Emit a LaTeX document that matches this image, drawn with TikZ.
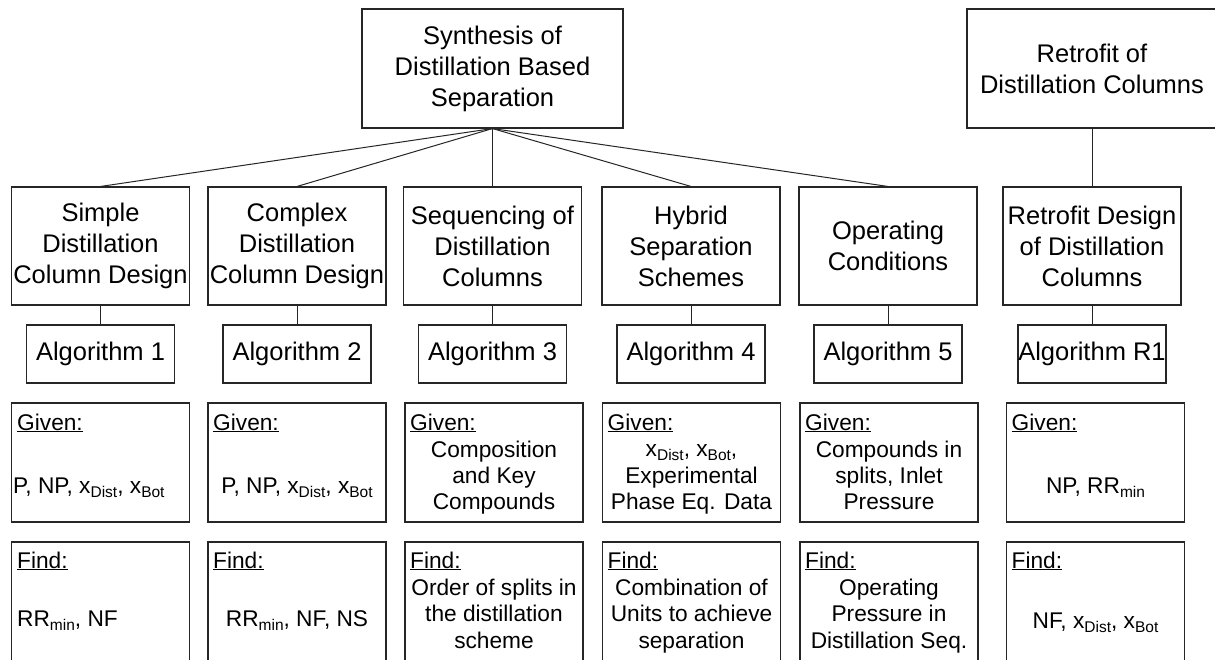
\documentclass[tikz,border=0pt]{standalone}
\usepackage{fontspec}
\setmainfont{Liberation Sans}
\newcommand\bigfs{\fontsize{25.5}{31}\selectfont}
\newcommand\smfs{\fontsize{22.7}{26.3}\selectfont}
\newcommand\sbs[1]{\raisebox{-4pt}{\fontsize{15.5}{16}\selectfont #1}}
\begin{document}
\begin{tikzpicture}[x=1pt,y=-1pt,
  box/.style={draw=black!85, line width=1.1pt, inner sep=0pt, align=center},
  topbox/.style={box, minimum height=119pt, font=\bigfs},
  midbox/.style={box, minimum width=178pt, minimum height=118pt, font=\bigfs},
  algbox/.style={box, minimum width=148pt, minimum height=58pt, font=\bigfs},
  infobox/.style={box, minimum width=178pt, minimum height=119pt},
  findbox/.style={box, minimum width=178pt, minimum height=130pt},
  lbl/.style={anchor=base west, inner sep=0pt, font=\smfs},
  txt/.style={anchor=base, inner sep=0pt, font=\smfs},
  conn/.style={draw=black!85, line width=1pt}]
\useasboundingbox[fill=white] (0,0) rectangle (1215,659);

% top level
\node[topbox, minimum width=261pt] (syn) at (492.5,68.5) {Synthesis of\\Distillation Based\\Separation};
\node[topbox, minimum width=250pt] (ret) at (1092,68.5) {Retrofit of\\Distillation Columns};

% second level
\node[midbox] (b1) at (100.5,246) {Simple\\Distillation\\Column Design};
\node[midbox] (b2) at (297,246) {Complex\\Distillation\\Column Design};
\node[midbox] (b3) at (492.5,246) {Sequencing of\\Distillation\\Columns};
\node[midbox] (b4) at (691,246) {Hybrid\\Separation\\Schemes};
\node[midbox] (b5) at (888,246) {Operating\\Conditions};
\node[midbox] (b6) at (1092,246) {Retrofit Design\\of Distillation\\Columns};

% algorithms
\node[algbox] (a1) at (100.5,354) {Algorithm 1};
\node[algbox] (a2) at (297,354) {Algorithm 2};
\node[algbox] (a3) at (492.5,354) {Algorithm 3};
\node[algbox] (a4) at (691,354) {Algorithm 4};
\node[algbox] (a5) at (888,354) {Algorithm 5};
\node[algbox] (a6) at (1092,354) {Algorithm R1};

% connectors
\foreach \b in {b1,b2,b3,b4,b5} \draw[conn] (syn.south) -- (\b.north);
\draw[conn] (ret.south) -- (b6.north);
\foreach \i in {1,...,6} \draw[conn] (b\i.south) -- (a\i.north);

% given boxes
\node[infobox] (g1) at (100.5,462.5) {};
\node[infobox] (g2) at (297,462.5) {};
\node[infobox] (g3) at (494,462.5) {};
\node[infobox] (g4) at (691.5,462.5) {};
\node[infobox] (g5) at (889,462.5) {};
\node[infobox] (g6) at (1095.5,462.5) {};
\foreach \i/\x in {1/17, 2/213, 3/410, 4/607.5, 5/805, 6/1011.5}
  \node[lbl] (gl\i) at (\x,430) {\underline{Given:}};

\node[lbl] (g1t) at (13,493) {P, NP, x\sbs{Dist}, x\sbs{Bot}};
\node[txt] (g2t) at (297,493) {P, NP, x\sbs{Dist}, x\sbs{Bot}};
\node[txt] (g3a) at (494,457) {Composition};
\node[txt] (g3b) at (494,483) {and Key};
\node[txt] (g3c) at (494,509) {Compounds};
\node[txt] (g4a) at (691.5,456) {x\sbs{Dist}, x\sbs{Bot},};
\node[txt] (g4b) at (691.5,483) {Experimental};
\node[txt] (g4c) at (691.5,509) {Phase Eq. Data};
\node[txt] (g5a) at (889,457) {Compounds in};
\node[txt] (g5b) at (889,483) {splits, Inlet};
\node[txt] (g5c) at (889,509) {Pressure};
\node[txt] (g6t) at (1095.5,493) {NP, RR\sbs{min}};

% find boxes
\node[findbox] (f1) at (100.5,607) {};
\node[findbox] (f2) at (297,607) {};
\node[findbox] (f3) at (494,607) {};
\node[findbox] (f4) at (691.5,607) {};
\node[findbox] (f5) at (889,607) {};
\node[findbox] (f6) at (1095.5,607) {};
\foreach \i/\x in {1/17, 2/213, 3/410, 4/607.5, 5/805, 6/1011.5}
  \node[lbl] (fl\i) at (\x,568) {\underline{Find:}};

\node[lbl] (f1t) at (17,626) {RR\sbs{min}, NF};
\node[txt] (f2t) at (297,626) {RR\sbs{min}, NF, NS};
\node[txt] (f3a) at (494,595) {Order of splits in};
\node[txt] (f3b) at (494,621) {the distillation};
\node[txt] (f3c) at (494,648) {scheme};
\node[txt] (f4a) at (691.5,595) {Combination of};
\node[txt] (f4b) at (691.5,621) {Units to achieve};
\node[txt] (f4c) at (691.5,648) {separation};
\node[txt] (f5a) at (889,595) {Operating};
\node[txt] (f5b) at (889,621) {Pressure in};
\node[txt] (f5c) at (889,648) {Distillation Seq.};
\node[txt] (f6t) at (1095.5,628) {NF, x\sbs{Dist}, x\sbs{Bot}};
\end{tikzpicture}
\end{document}
